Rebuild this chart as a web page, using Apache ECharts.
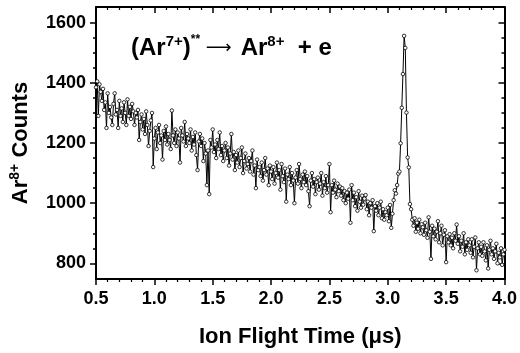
<!DOCTYPE html>
<html>
<head>
<meta charset="utf-8">
<script src="https://cdn.jsdelivr.net/npm/echarts@6/dist/echarts.min.js"></script>
<style>
html,body{margin:0;padding:0;background:#fff;}
#chart{width:520px;height:353px;}
</style>
</head>
<body>
<div id="chart"></div>
<script>
// ---- data ----
const timeStart = 0.5;   // µs, first sample
const timeStep = 0.01;   // µs, sampling step
const counts = [
  1385,1405,1290,1395,1370,1340,1380,1310,1335,1250,
  1365,1300,1320,1285,1260,1330,1365,1295,1310,1250,
  1340,1290,1315,1270,1335,1300,1260,1345,1290,1320,
  1280,1330,1305,1260,1300,1285,1310,1210,1270,1295,
  1245,1280,1230,1305,1260,1190,1240,1275,1300,1120,
  1215,1250,1180,1235,1260,1200,1225,1145,1240,1210,
  1255,1195,1230,1210,1180,1308,1225,1200,1245,1190,
  1235,1215,1135,1250,1225,1205,1270,1190,1230,1215,
  1200,1245,1175,1220,1195,1235,1160,1110,1205,1230,
  1190,1215,1140,1200,1165,1060,1175,1030,1210,1185,
  1245,1170,1195,1150,1210,1180,1235,1160,1190,1140,
  1175,1200,1150,1185,1125,1165,1230,1145,1170,1110,
  1160,1135,1175,1120,1150,1185,1100,1140,1165,1115,
  1130,1150,1105,1140,1175,1095,1125,1050,1145,1110,
  1120,1090,1135,1075,1110,1150,1095,1115,1060,1125,
  1105,1080,1120,1065,1100,1135,1085,1110,1045,1130,
  1090,1070,1115,1005,1095,1080,1120,1060,1100,1075,
  1000,1085,1110,1065,1130,1080,1050,1095,1070,1105,
  1060,1090,1040,990,1075,1100,1055,1080,1030,1070,
  1085,1045,1065,1100,1025,1070,1050,1090,1035,1060,
  1130,970,1060,1035,1075,1045,1020,1065,1040,1055,
  1025,1050,1010,1040,1000,1035,1015,1045,935,1060,
  1010,1035,990,1020,975,1040,1005,985,1025,995,
  1015,1027,980,1005,960,1000,985,1010,907,990,
  975,1000,960,985,1005,950,980,945,970,960,
  985,940,994,918,965,1010,1043,1032,1060,1098,
  1105,1199,1317,1429,1556,1516,1301,1152,1119,997,
  980,945,925,950,905,935,915,945,900,930,
  920,895,935,910,885,953,905,815,925,890,
  915,880,905,940,870,900,925,860,895,910,
  804,890,870,897,860,885,850,900,875,929,
  865,890,840,875,855,900,830,870,845,880,
  860,835,880,820,855,886,777,850,870,830,
  855,825,870,840,810,860,783,845,875,830,
  850,815,840,865,800,835,820,850,795,830,
  845
];
const yMajorTicks = [800, 1000, 1200, 1400, 1600];
const yMinorTicks = [850, 900, 950, 1050, 1100, 1150, 1250, 1300, 1350, 1450, 1500, 1550];
const xMin = 0.5, xMax = 4.0, xInterval = 0.5;
const yMin = 748, yMax = 1652;

const seriesData = counts.map((c, i) => [+(timeStart + i * timeStep).toFixed(2), c]);

const chart = echarts.init(document.getElementById('chart'), null, {renderer: 'canvas'});
const font = 'Liberation Sans, Arial, sans-serif';
const lineStyle = {color: '#000', width: 2};

function yAxisDef(position, ticks, len, inside, showLine, showLabel) {
  return {
    type: 'value', position: position, min: yMin, max: yMax,
    axisLine: {show: showLine, onZero: false, lineStyle: lineStyle},
    axisTick: {show: true, inside: inside, length: len, customValues: ticks, lineStyle: {color: '#000', width: 1.5}},
    axisLabel: showLabel ? {show: true, customValues: yMajorTicks, margin: 10, color: '#000', fontSize: 18, fontWeight: 'bold', fontFamily: font, formatter: v => String(Math.round(v))} : {show: false},
    splitLine: {show: false}
  };
}

const option = {
  animation: false,
  backgroundColor: '#fff',
  grid: {left: 94, right: 12, top: 7, bottom: 70, containLabel: false},
  xAxis: [
    {
      type: 'value', position: 'bottom', min: xMin, max: xMax, interval: xInterval,
      axisLine: {onZero: false, lineStyle: lineStyle},
      axisTick: {inside: false, length: 6, lineStyle: {color: '#000', width: 1.5}},
      minorTick: {show: true, splitNumber: 5, length: 3, lineStyle: {color: '#000', width: 1.2}},
      axisLabel: {margin: 11, color: '#000', fontSize: 18, fontWeight: 'bold', fontFamily: font,
        formatter: v => v.toFixed(1)},
      splitLine: {show: false},
      name: 'Ion Flight Time (\u03bcs)', nameLocation: 'middle', nameGap: 47,
      nameTextStyle: {color: '#000', fontSize: 22, fontWeight: 'bold', fontFamily: font}
    },
    {
      type: 'value', position: 'top', min: xMin, max: xMax, interval: xInterval,
      axisLine: {onZero: false, lineStyle: lineStyle},
      axisTick: {inside: true, length: 6, lineStyle: {color: '#000', width: 1.5}},
      minorTick: {show: true, splitNumber: 5, length: 3, lineStyle: {color: '#000', width: 1.2}},
      axisLabel: {show: false}, splitLine: {show: false}
    }
  ],
  yAxis: [
    Object.assign(yAxisDef('left', yMajorTicks, 6, false, true, true), {
      name: '{a|Ar}{s|8+}{a| Counts}', nameLocation: 'middle', nameGap: 62,
      nameTextStyle: {color: '#000', fontFamily: font, rich: {
        a: {fontSize: 22, fontWeight: 'bold', fontFamily: font, color: '#000', lineHeight: 26},
        s: {fontSize: 14, fontWeight: 'bold', fontFamily: font, color: '#000', lineHeight: 14, verticalAlign: 'top'}
      }}
    }),
    yAxisDef('left', yMinorTicks, 3, false, false, false),
    yAxisDef('right', yMajorTicks, 6, true, true, false),
    yAxisDef('right', yMinorTicks, 3, true, false, false)
  ],
  graphic: [{
    type: 'text', left: 131, top: 34, z: 100,
    style: {
      text: '{a|(Ar}{s|7+}{a|)}{t|**}{r| \u27F6 }{sp| }{a|Ar}{s|8+}{a|  + e}',
      fill: '#000',
      rich: {
        a: {fontSize: 24, fontWeight: 'bold', fontFamily: font, fill: '#000', lineHeight: 28},
        s: {fontSize: 15, fontWeight: 'bold', fontFamily: font, fill: '#000', lineHeight: 15, verticalAlign: 'top'},
        t: {fontSize: 12, fontWeight: 'bold', fontFamily: font, fill: '#000', lineHeight: 12, verticalAlign: 'top'},
        r: {fontSize: 18, fontWeight: 'normal', fontFamily: 'DejaVu Sans', fill: '#000', lineHeight: 28},
        sp: {fontSize: 12, fontFamily: font, fill: '#000', lineHeight: 12}
      }
    }
  }],
  series: [{
    type: 'line', xAxisIndex: 0, yAxisIndex: 0,
    data: seriesData,
    symbol: 'circle', symbolSize: 3.5, showAllSymbol: true,
    lineStyle: {color: '#000', width: 1},
    itemStyle: {color: '#fff', borderColor: '#000', borderWidth: 0.8},
    clip: true
  }]
};
chart.setOption(option);
</script>
</body>
</html>
